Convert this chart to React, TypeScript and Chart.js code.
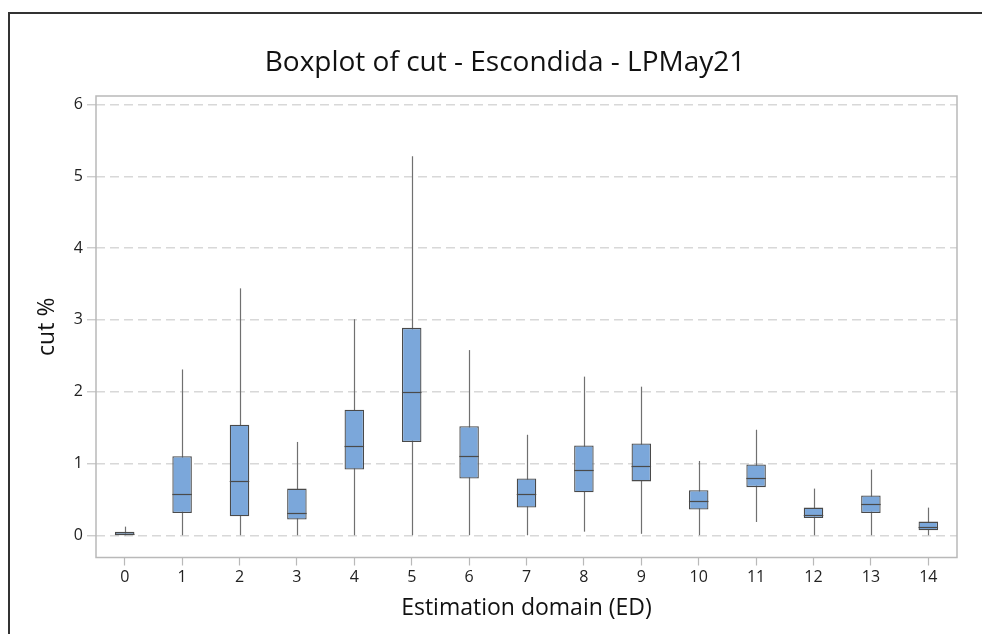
import React, { useEffect, useRef } from "react";
import { Chart, registerables } from "chart.js";

Chart.register(...registerables);

const categories = ["0", "1", "2", "3", "4", "5", "6", "7", "8", "9", "10", "11", "12", "13", "14"];
const mins = [0, 0, 0, 0, 0, 0, 0, 0, 0.05, 0.02, 0, 0.185, 0, 0, 0];
const q1s = [0.005, 0.31, 0.265, 0.22, 0.915, 1.3, 0.79, 0.385, 0.6, 0.75, 0.358, 0.67, 0.24, 0.31, 0.07];
const medians = [0.02, 0.575, 0.75, 0.31, 1.25, 2.0, 1.11, 0.58, 0.915, 0.96, 0.483, 0.8, 0.283, 0.436, 0.12];
const q3s = [0.05, 1.1, 1.54, 0.65, 1.75, 2.89, 1.52, 0.79, 1.25, 1.28, 0.627, 0.985, 0.385, 0.553, 0.19];
const maxs = [0.12, 2.31, 3.44, 1.3, 3.01, 5.28, 2.58, 1.4, 2.21, 2.07, 1.035, 1.47, 0.65, 0.915, 0.385];

const titleText = "Boxplot of cut - Escondida - LPMay21";
const xTitle = "Estimation domain (ED)";
const yTitle = "cut %";
const FONT = '"Open Sans", "Noto Sans", sans-serif';

const boxPlugin = {
  id: "boxParts",
  beforeDatasetsDraw(chart: any) {
    const meta = chart.getDatasetMeta(0);
    const y = chart.scales.y;
    const ctx = chart.ctx;
    ctx.save();
    ctx.strokeStyle = "#707070";
    ctx.lineWidth = 1.2;
    meta.data.forEach((bar: any, i: number) => {
      const x = Math.round(bar.x) + 0.5;
      ctx.beginPath();
      ctx.moveTo(x, y.getPixelForValue(mins[i]));
      ctx.lineTo(x, y.getPixelForValue(maxs[i]));
      ctx.stroke();
    });
    ctx.restore();
  },
  afterDatasetsDraw(chart: any) {
    const meta = chart.getDatasetMeta(0);
    const y = chart.scales.y;
    const ctx = chart.ctx;
    ctx.save();
    ctx.strokeStyle = "#4a4a4a";
    ctx.lineWidth = 1.2;
    meta.data.forEach((bar: any, i: number) => {
      const py = Math.round(y.getPixelForValue(medians[i])) + 0.5;
      ctx.beginPath();
      ctx.moveTo(bar.x - bar.width / 2, py);
      ctx.lineTo(bar.x + bar.width / 2, py);
      ctx.stroke();
    });
    ctx.restore();
  },
  afterDraw(chart: any) {
    const ctx = chart.ctx;
    const a = chart.chartArea;
    ctx.save();
    ctx.strokeStyle = "#b9b9b9";
    ctx.lineWidth = 1.5;
    ctx.strokeRect(a.left, a.top, a.right - a.left, a.bottom - a.top);
    ctx.fillStyle = "#111";
    ctx.font = `400 28px ${FONT}`;
    ctx.textAlign = "center";
    ctx.textBaseline = "alphabetic";
    ctx.fillText(titleText, 495, 57);
    ctx.restore();
  },
};

export default function App() {
  const ref = useRef<HTMLCanvasElement>(null);
  useEffect(() => {
    if (!ref.current) return;
    const chart = new Chart(ref.current, {
      type: "bar",
      data: {
        labels: categories,
        datasets: [
          {
            data: q1s.map((q, i) => [q, q3s[i]]) as any,
            backgroundColor: "#7ba7da",
            borderColor: "#4a4a4a",
            borderWidth: 1.3,
            borderSkipped: false,
            barPercentage: 0.34,
            categoryPercentage: 1,
          },
        ],
      },
      options: {
        animation: false,
        responsive: false,
        devicePixelRatio: 1,
        layout: { padding: { left: 24, right: 53, top: 82, bottom: 11.7 } },
        plugins: { legend: { display: false }, tooltip: { enabled: false }, title: { display: false } },
        scales: {
          x: {
            type: "category",
            offset: true,
            afterFit: (s: any) => {
              s.height = 64.8;
            },
            grid: {
              offset: false,
              drawOnChartArea: false,
              drawTicks: true,
              tickLength: 8,
              tickColor: "#b9b9b9",
              tickWidth: 1.2,
            },
            border: { display: false },
            ticks: { color: "#222", font: { family: FONT, size: 16 }, padding: 2, maxRotation: 0 },
            title: {
              display: true,
              text: xTitle,
              color: "#111",
              font: { family: FONT, size: 23 },
              padding: { top: 0, bottom: 0 },
            },
          },
          y: {
            type: "linear",
            min: -0.31,
            max: 6.12,
            afterFit: (s: any) => {
              s.width = 62;
            },
            grid: {
              color: "#d8d8d8",
              lineWidth: 1.5,
              drawTicks: true,
              tickLength: 9,
              tickColor: "#c4c4c4",
              tickWidth: 1.2,
              tickBorderDash: [],
            } as any,
            border: { display: false, dash: [9, 5] },
            ticks: {
              stepSize: 1,
              includeBounds: false,
              color: "#222",
              font: { family: FONT, size: 16 },
              padding: 4,
              callback: (v: any) => String(v),
            },
            title: {
              display: true,
              text: yTitle,
              color: "#111",
              font: { family: FONT, size: 23 },
              padding: { top: 0, bottom: 0 },
            },
          },
        },
      },
      plugins: [boxPlugin],
    });
    return () => chart.destroy();
  }, []);
  return (
    <div style={{ position: "fixed", inset: 0, overflow: "hidden", background: "#fff" }}>
      <div
        style={{
          position: "absolute",
          left: 8,
          top: 12,
          width: 1000,
          height: 620,
          borderLeft: "2px solid #333",
          borderTop: "2px solid #333",
        }}
      >
        <canvas ref={ref} width={1000} height={620} style={{ display: "block", width: 1000, height: 620 }} />
      </div>
    </div>
  );
}
